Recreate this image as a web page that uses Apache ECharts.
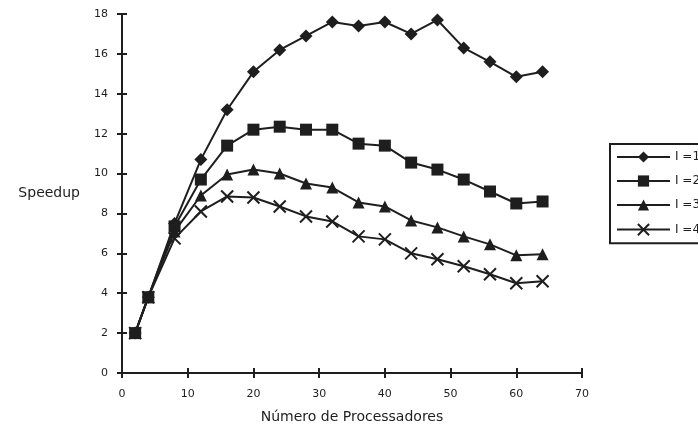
<!DOCTYPE html>
<html>
<head>
<meta charset="utf-8">
<script src="https://cdn.jsdelivr.net/npm/echarts@6/dist/echarts.min.js"></script>
<style>
  html, body { margin: 0; padding: 0; background: #fff; }
  #chart { width: 698px; height: 439px; }
</style>
</head>
<body>
<div id="chart"></div>
<script>
var processors = [2, 4, 8, 12, 16, 20, 24, 28, 32, 36, 40, 44, 48, 52, 56, 60, 64]
var speedupI1 = [2, 3.8, 7.5, 10.7, 13.2, 15.1, 16.2, 16.9, 17.6, 17.4, 17.6, 17.0, 17.7, 16.3, 15.6, 14.85, 15.1]
var speedupI2 = [2, 3.8, 7.35, 9.7, 11.4, 12.2, 12.35, 12.2, 12.2, 11.5, 11.4, 10.55, 10.2, 9.7, 9.1, 8.5, 8.6]
var speedupI3 = [2, 3.8, 7.1, 8.9, 9.95, 10.2, 10.0, 9.5, 9.3, 8.55, 8.35, 7.65, 7.3, 6.85, 6.45, 5.9, 5.95]
var speedupI4 = [2, 3.8, 6.75, 8.1, 8.85, 8.8, 8.35, 7.85, 7.6, 6.85, 6.7, 6.0, 5.7, 5.35, 4.95, 4.5, 4.6]
var seriesNames = ['I =1', 'I =2', 'I =3', 'I =4']

var ink = '#1e1e1e'
var font = 'DejaVu Sans'

function pairs(ys) {
  return processors.map(function (x, i) { return [x, ys[i]] })
}

function makeSeries(name, ys, symbol, size, extra) {
  var s = {
    name: name,
    type: 'line',
    data: pairs(ys),
    symbol: symbol,
    symbolSize: size,
    lineStyle: { color: ink, width: 2 },
    itemStyle: { color: ink },
    xAxisIndex: 0,
    yAxisIndex: 0,
    z: 3
  }
  if (extra) s.itemStyle = extra
  return s
}

var chart = echarts.init(document.getElementById('chart'), null, { renderer: 'canvas' })

var axisLineStyle = { lineStyle: { color: ink, width: 2 } }
var option = {
  animation: false,
  backgroundColor: '#fff',
  textStyle: { fontFamily: font, color: ink },
  grid: { left: 122, right: 116, top: 14, bottom: 66 },
  legend: {
    orient: 'vertical',
    left: 610,
    top: 144,
    padding: [7, 4, 7, 6],
    itemWidth: 53,
    itemHeight: 14,
    itemGap: 12,
    borderColor: ink,
    borderWidth: 2,
    textStyle: { fontFamily: font, fontSize: 12, color: ink },
    data: seriesNames
  },
  xAxis: [
    {
      type: 'value',
      min: 0,
      max: 70,
      interval: 10,
      name: 'Número de Processadores',
      nameLocation: 'middle',
      nameGap: 37,
      nameTextStyle: { fontFamily: font, fontSize: 14, color: ink },
      axisLine: axisLineStyle,
      axisTick: { show: true, inside: false, length: 5, lineStyle: { color: ink, width: 2 } },
      axisLabel: { fontFamily: font, fontSize: 11, color: ink, margin: 16 },
      splitLine: { show: false }
    },
    {
      type: 'value',
      position: 'bottom',
      min: 0,
      max: 70,
      interval: 10,
      axisLine: axisLineStyle,
      axisTick: { show: true, inside: true, length: 5, lineStyle: { color: ink, width: 2 } },
      axisLabel: { show: false },
      splitLine: { show: false }
    }
  ],
  yAxis: [
    {
      type: 'value',
      min: 0,
      max: 18,
      interval: 2,
      name: 'Speedup',
      nameLocation: 'middle',
      nameRotate: 0,
      nameGap: 42,
      nameTextStyle: { fontFamily: font, fontSize: 14, color: ink },
      axisLine: axisLineStyle,
      axisTick: { show: true, inside: false, length: 5, lineStyle: { color: ink, width: 2 } },
      axisLabel: { fontFamily: font, fontSize: 11, color: ink, margin: 14 },
      splitLine: { show: false }
    },
    {
      type: 'value',
      position: 'left',
      min: 0,
      max: 18,
      interval: 2,
      axisLine: axisLineStyle,
      axisTick: { show: true, inside: true, length: 5, lineStyle: { color: ink, width: 2 } },
      axisLabel: { show: false },
      splitLine: { show: false }
    }
  ],
  series: [
    makeSeries(seriesNames[0], speedupI1, 'diamond', 13),
    makeSeries(seriesNames[1], speedupI2, 'rect', 12),
    makeSeries(seriesNames[2], speedupI3, 'triangle', 12),
    makeSeries(seriesNames[3], speedupI4, 'path://M0,0L10,10M10,0L0,10', 12,
      { color: 'rgba(0,0,0,0)', borderColor: ink, borderWidth: 2 })
  ]
}
chart.setOption(option)
</script>
</body>
</html>
